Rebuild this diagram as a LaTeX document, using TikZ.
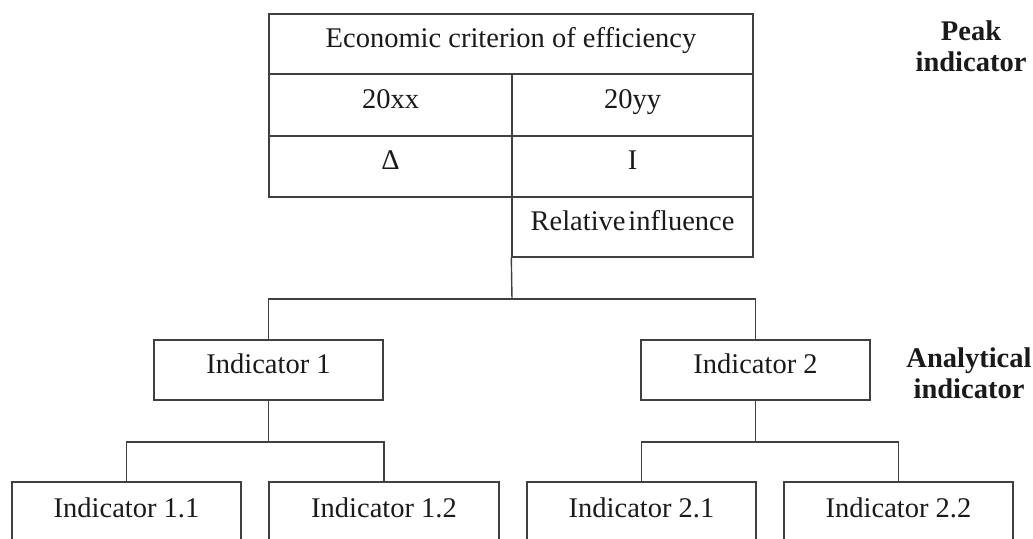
\documentclass[tikz,border=0pt]{standalone}
\usepackage{fontspec}
\setmainfont{Liberation Serif}
\begin{document}
\begin{tikzpicture}[x=1pt,y=-1pt,
  cell/.style={draw=linec, line width=1.4pt, rectangle, inner sep=0pt,
    text height=18pt, text depth=12pt, text=txtc,
    font=\fontsize{28.5}{32}\selectfont},
  head/.style={text=txtc, align=center, inner sep=0pt,
    font=\fontsize{28.5}{30.5}\selectfont\bfseries},
  conn/.style={draw=linec, line width=1.4pt}]
\definecolor{linec}{HTML}{404040}
\definecolor{txtc}{HTML}{1A1A1A}
\useasboundingbox (0,0) rectangle (1033,538);
\clip (0,0) rectangle (1033,538);
% table
\node[cell, minimum width=484pt, minimum height=60pt] (top) at (511,44) {Economic criterion of efficiency};
\node[cell, minimum width=243pt, minimum height=62pt] (xx) at (390.5,105) {20xx};
\node[cell, minimum width=241pt, minimum height=62pt] (yy) at (632.5,105) {20yy};
\node[cell, minimum width=243pt, minimum height=61pt] (delta) at (390.5,166.5) {Δ};
\node[cell, minimum width=241pt, minimum height=61pt] (ii) at (632.5,166.5) {I};
\node[cell, minimum width=241pt, minimum height=60pt] (rel) at (632.5,227) {Relative\hspace{0.1em}influence};
% level 2
\node[cell, minimum width=229pt, minimum height=60pt] (i1) at (268.5,370) {Indicator 1};
\node[cell, minimum width=229pt, minimum height=60pt] (i2) at (755.5,370) {Indicator 2};
% level 3
\node[cell, minimum width=229pt, minimum height=64pt] (i11) at (126.5,514) {Indicator 1.1};
\node[cell, minimum width=230pt, minimum height=64pt] (i12) at (384,514) {Indicator 1.2};
\node[cell, minimum width=229pt, minimum height=64pt] (i21) at (641.5,514) {Indicator 2.1};
\node[cell, minimum width=229pt, minimum height=64pt] (i22) at (898.5,514) {Indicator 2.2};
% connectors
\coordinate (j0) at (512,299);
\coordinate (j1) at (268.5,442);
\coordinate (j2) at (755.5,442);
\draw[conn] (rel.south west) -- (j0);
\draw[conn] (i1.north) |- (j0) -| (i2.north);
\draw[conn] (i1.south) -- (j1);
\draw[conn] (i11.north) |- (j1) -| (i12.north);
\draw[conn] (i2.south) -- (j2);
\draw[conn] (i21.north) |- (j2) -| (i22.north);
% side labels
\node[head, anchor=base] (peak) at (971,71) {Peak\\indicator};
\node[head, anchor=base] (anal) at (969,398) {Analytical\\indicator};
\end{tikzpicture}
\end{document}
